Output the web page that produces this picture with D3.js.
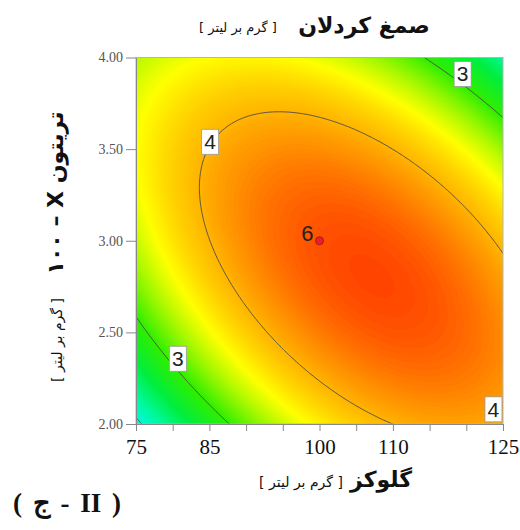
<!DOCTYPE html>
<html>
<head>
<meta charset="utf-8">
<title>Contour plot</title>
<script src="https://d3js.org/d3.v7.min.js"></script>
<style>
    body { margin: 0; background: #fff; }
    .fa { font-family: "DejaVu Sans", sans-serif; fill: #111; }
    .axis text { font-family: "Liberation Serif", "Times New Roman", serif; }
    .axis path, .axis line { stroke: #888; }
</style>
</head>
<body>
<div id="cont"></div>
<script>
// glucose (x) and Triton X-100 (y), both g/L
var xTicks = [75, 80, 85, 90, 95, 100, 105, 110, 115, 120, 125];
var xTickLabels = [75, 85, 100, 110, 125];
var yTicks = [2.00, 2.50, 3.00, 3.50, 4.00];

// quadratic model in coded units: A = (x - 100) / 25, B = (y - 3) / 1
var modelTerms = ['1', 'A', 'B', 'AB', 'A2', 'B2'];
var modelCoefs = [4.405, 0.252, -0.072, -0.805, -0.714, -0.785];

var contourLevels = [2, 3, 4];

// contour labels (data units)
var labelLevels = [3, 4, 3, 4];
var labelX = [119.5, 85.1, 80.7, 123.7];
var labelY = [3.91, 3.54, 2.356, 2.08];

// design point with replicate count
var pointX = [100];
var pointY = [3.00];
var pointCount = [6];

var colorValues = [1.90, 2.25, 2.60, 3.00, 3.35, 3.62, 3.85, 4.00, 4.20, 4.35, 4.45];
var colorHex = ['#00f8f0', '#00f8a0', '#00ee40', '#30ee00', '#a8f800', '#ffff00',
                '#ffd000', '#ffb400', '#ff8800', '#ff6000', '#ff4400'];

(function() {
    var W = 520, H = 530,
        margin = {top: 57.5, right: 17, bottom: 106, left: 136},
        width = W - margin.left - margin.right,
        height = H - margin.top - margin.bottom;

    var xScale = d3.scaleLinear().domain([75, 125]).range([0, width]);
    var yScale = d3.scaleLinear().domain([2, 4]).range([height, 0]);
    var color = d3.scaleLinear().domain(colorValues).range(colorHex).clamp(true);

    function response(x, y) {
        var A = (x - 100) / 25, B = (y - 3);
        var t = [1, A, B, A * B, A * A, B * B];
        return d3.sum(t, function(v, i) { return v * modelCoefs[i]; });
    }

    // sample grid a bit beyond the plot so contour rings close outside the clip
    var gx0 = 72, gx1 = 128, gy0 = 1.88, gy1 = 4.12, n = 240, m = 240;
    var values = new Array(n * m);
    for (var j = 0; j < m; j++) {
        for (var i = 0; i < n; i++) {
            values[j * n + i] = response(gx0 + (i + 0.5) * (gx1 - gx0) / n,
                                         gy0 + (j + 0.5) * (gy1 - gy0) / m);
        }
    }
    var toPx = d3.geoTransform({
        point: function(cx, cy) {
            this.stream.point(xScale(gx0 + cx * (gx1 - gx0) / n),
                              yScale(gy0 + cy * (gy1 - gy0) / m));
        }
    });
    var path = d3.geoPath(toPx);

    var svg = d3.select('#cont').append('svg')
        .attr('width', W)
        .attr('height', H);

    svg.append('defs').append('clipPath').attr('id', 'plotclip')
        .append('rect').attr('width', width).attr('height', height);

    var g = svg.append('g')
        .attr('transform', 'translate(' + margin.left + ',' + margin.top + ')');

    var plot = g.append('g').attr('clip-path', 'url(#plotclip)');

    //Filled colour bands
    var step = 0.02;
    var bandThresholds = d3.range(1.5, 4.46, step);
    var bands = d3.contours().size([n, m]).thresholds(bandThresholds)(values);
    plot.append('g')
        .selectAll('path')
        .data(bands)
        .enter()
        .append('path')
        .attr('d', path)
        .attr('fill', function(d) { return color(d.value + step / 2); });

    //Contour lines
    var lines = d3.contours().size([n, m]).thresholds(contourLevels)(values);
    plot.append('g')
        .selectAll('path')
        .data(lines)
        .enter()
        .append('path')
        .attr('d', path)
        .attr('fill', 'none')
        .attr('stroke', '#4a4a4a')
        .attr('stroke-width', 0.9);

    //Frame
    g.append('rect')
        .attr('width', width)
        .attr('height', height)
        .attr('fill', 'none')
        .attr('stroke', '#b4b4b4');

    //Contour labels
    var lab = g.selectAll('.clabel')
        .data(labelLevels)
        .enter()
        .append('g')
        .attr('class', 'clabel')
        .attr('transform', function(d, i) {
            return 'translate(' + xScale(labelX[i]) + ',' + yScale(labelY[i]) + ')';
        });
    lab.append('rect')
        .attr('x', -8.5).attr('y', -12.5)
        .attr('width', 17).attr('height', 25)
        .attr('fill', '#fff')
        .attr('stroke', '#999')
        .attr('stroke-width', 0.8);
    lab.append('text')
        .attr('text-anchor', 'middle')
        .attr('y', 7.5)
        .style('font-family', '"Liberation Sans", Arial, sans-serif')
        .style('font-size', '21px')
        .attr('fill', '#222')
        .text(function(d) { return d; });

    //Design point
    var pt = g.selectAll('.dpoint')
        .data(pointCount)
        .enter()
        .append('g')
        .attr('class', 'dpoint')
        .attr('transform', function(d, i) {
            return 'translate(' + xScale(pointX[i]) + ',' + yScale(pointY[i]) + ')';
        });
    pt.append('circle')
        .attr('r', 4)
        .attr('fill', '#e8202a')
        .attr('stroke', '#a01212')
        .attr('stroke-width', 0.8);
    pt.append('text')
        .attr('x', -6)
        .attr('y', 0.5)
        .attr('text-anchor', 'end')
        .style('font-family', '"Liberation Sans", Arial, sans-serif')
        .style('font-size', '22px')
        .attr('fill', '#222')
        .text(function(d) { return d; });

    //Axes
    var xAxis = d3.axisBottom(xScale)
        .tickValues(xTicks)
        .tickSize(7)
        .tickSizeOuter(0)
        .tickPadding(8)
        .tickFormat(function(d) { return xTickLabels.indexOf(d) >= 0 ? d : ''; });
    var yAxis = d3.axisLeft(yScale)
        .tickValues(yTicks)
        .tickSize(10)
        .tickSizeOuter(0)
        .tickPadding(3)
        .tickFormat(d3.format('.2f'));

    g.append('g')
        .attr('class', 'axis xaxis')
        .attr('transform', 'translate(0,' + height + ')')
        .call(xAxis)
        .selectAll('text')
        .style('font-size', '21px')
        .attr('fill', '#111');

    g.append('g')
        .attr('class', 'axis yaxis')
        .call(yAxis)
        .selectAll('text')
        .style('font-size', '14px')
        .attr('fill', '#555');

    //Titles
    function faText(x, y, rot, size, bold, str) {
        svg.append('text')
            .attr('class', 'fa')
            .attr('transform', 'translate(' + x + ',' + y + ')' + (rot ? ' rotate(' + rot + ')' : ''))
            .attr('text-anchor', 'middle')
            .style('direction', 'rtl')
            .style('font-size', size + 'px')
            .style('font-weight', bold ? 'bold' : 'normal')
            .text(str);
    }
    faText(364, 33, 0, 22, true, 'صمغ کردلان');
    faText(238, 32, 0, 13, false, '[ گرم بر لیتر ]');

    faText(381, 487, 0, 22, true, 'گلوکز');
    faText(301, 487, 0, 14, false, '[ گرم بر لیتر ]');

    // RLM after X keeps the number on the far side of the dash
    faText(63, 193, -90, 22, true, 'تریتون X\u200F – ۱۰۰');
    faText(62, 340, -90, 14, false, '[ گرم بر لیتر ]');

    svg.append('text')
        .attr('x', 13)
        .attr('y', 512)
        .style('font-family', '"Liberation Serif", "Times New Roman", serif')
        .style('font-weight', 'bold')
        .style('font-size', '27px')
        .style('word-spacing', '4px')
        .attr('fill', '#111')
        .text('( ج - II )');
})();
</script>
</body>
</html>
